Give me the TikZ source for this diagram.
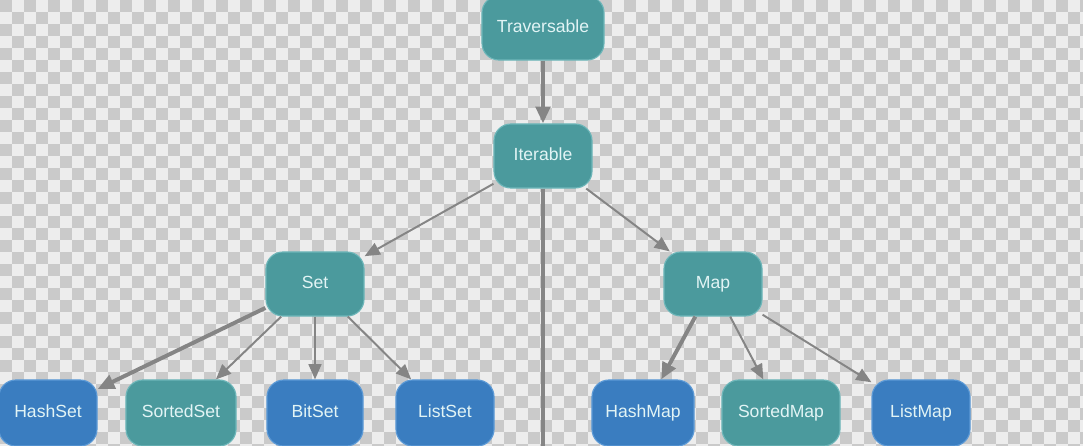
\documentclass[tikz,border=0pt]{standalone}
\usepackage{fontspec}
\setmainfont{Liberation Sans}
\usepackage{xcolor}
\definecolor{tealbox}{HTML}{4B9A9D}
\definecolor{tealedge}{HTML}{6DB6B9}
\definecolor{bluebox}{HTML}{3A7DC0}
\definecolor{blueedge}{HTML}{5C9AD6}
\definecolor{boxtext}{HTML}{E2F4F5}
\definecolor{linkcol}{HTML}{858585}
\definecolor{chklight}{HTML}{EDEDED}
\definecolor{chkdark}{HTML}{CACACA}
\usetikzlibrary{arrows.meta}

\tikzset{
  box/.style={rounded corners=0.42cm, minimum height=1.6cm, inner sep=0pt,
    text=boxtext, font=\fontsize{12.5}{15}\selectfont, line width=0.8pt,
    text height=9pt, text depth=2.6pt},
  trait/.style={box, fill=tealbox, draw=tealedge},
  impl/.style={box, fill=bluebox, draw=blueedge},
  link/.style={draw=linkcol, line width=1.4pt,
    -{Triangle[length=0.38cm, width=0.32cm]}, color=linkcol},
  strong/.style={link, line width=2.8pt,
    -{Triangle[length=0.42cm, width=0.36cm]}}
}

\begin{document}
\begin{tikzpicture}[x=0.025cm, y=-0.025cm]
  \useasboundingbox (0,0) rectangle (1083,446);
  \clip (0,0) rectangle (1083,446);

  % checkered backdrop
  \fill[chklight] (0,0) rectangle (1083,446);
  \foreach \i in {0,...,90}{
    \pgfmathtruncatemacro{\off}{mod(\i,2)}
    \foreach \j in {0,...,18}{
      \fill[chkdark] ({\i*12},{(2*\j+\off)*12}) rectangle ++(12,12);
    }
  }

  % top of the hierarchy
  \node[trait, minimum width=3.05cm] (trav) at (543,28) {Traversable};
  \node[trait, minimum width=2.45cm] (iter) at (543,156) {Iterable};
  \coordinate (seqend) at (543,460);

  \node[trait, minimum width=2.45cm] (set) at (315,284) {Set};
  \node[trait, minimum width=2.45cm] (map) at (713,284) {Map};

  % leaves
  \node[impl,  minimum width=2.45cm, minimum height=1.65cm] (hashset)   at (48,413)  {HashSet};
  \node[trait, minimum width=2.75cm, minimum height=1.65cm] (sortedset) at (181,413) {SortedSet};
  \node[impl,  minimum width=2.4cm,  minimum height=1.65cm] (bitset)    at (315,413) {BitSet};
  \node[impl,  minimum width=2.45cm, minimum height=1.65cm] (listset)   at (445,413) {ListSet};
  \node[impl,  minimum width=2.55cm, minimum height=1.65cm] (hashmap)   at (643,413) {HashMap};
  \node[trait, minimum width=2.95cm, minimum height=1.65cm] (sortedmap) at (781,413) {SortedMap};
  \node[impl,  minimum width=2.45cm, minimum height=1.65cm] (listmap)   at (921,413) {ListMap};

  % connectors
  \draw[strong] (trav) -- (iter);
  \draw[draw=linkcol, line width=2.8pt] (iter.south) -- (seqend);
  \draw[link] (iter) -- (set);
  \draw[link] (iter) -- (map);

  \draw[strong] (set) -- (hashset);
  \draw[link] (set) -- (sortedset);
  \draw[link] (set) -- (bitset);
  \draw[link] (set) -- (listset);

  \draw[strong] (map) -- (hashmap);
  \draw[link] (map) -- (sortedmap);
  \draw[link] (map) -- (listmap);
\end{tikzpicture}
\end{document}
